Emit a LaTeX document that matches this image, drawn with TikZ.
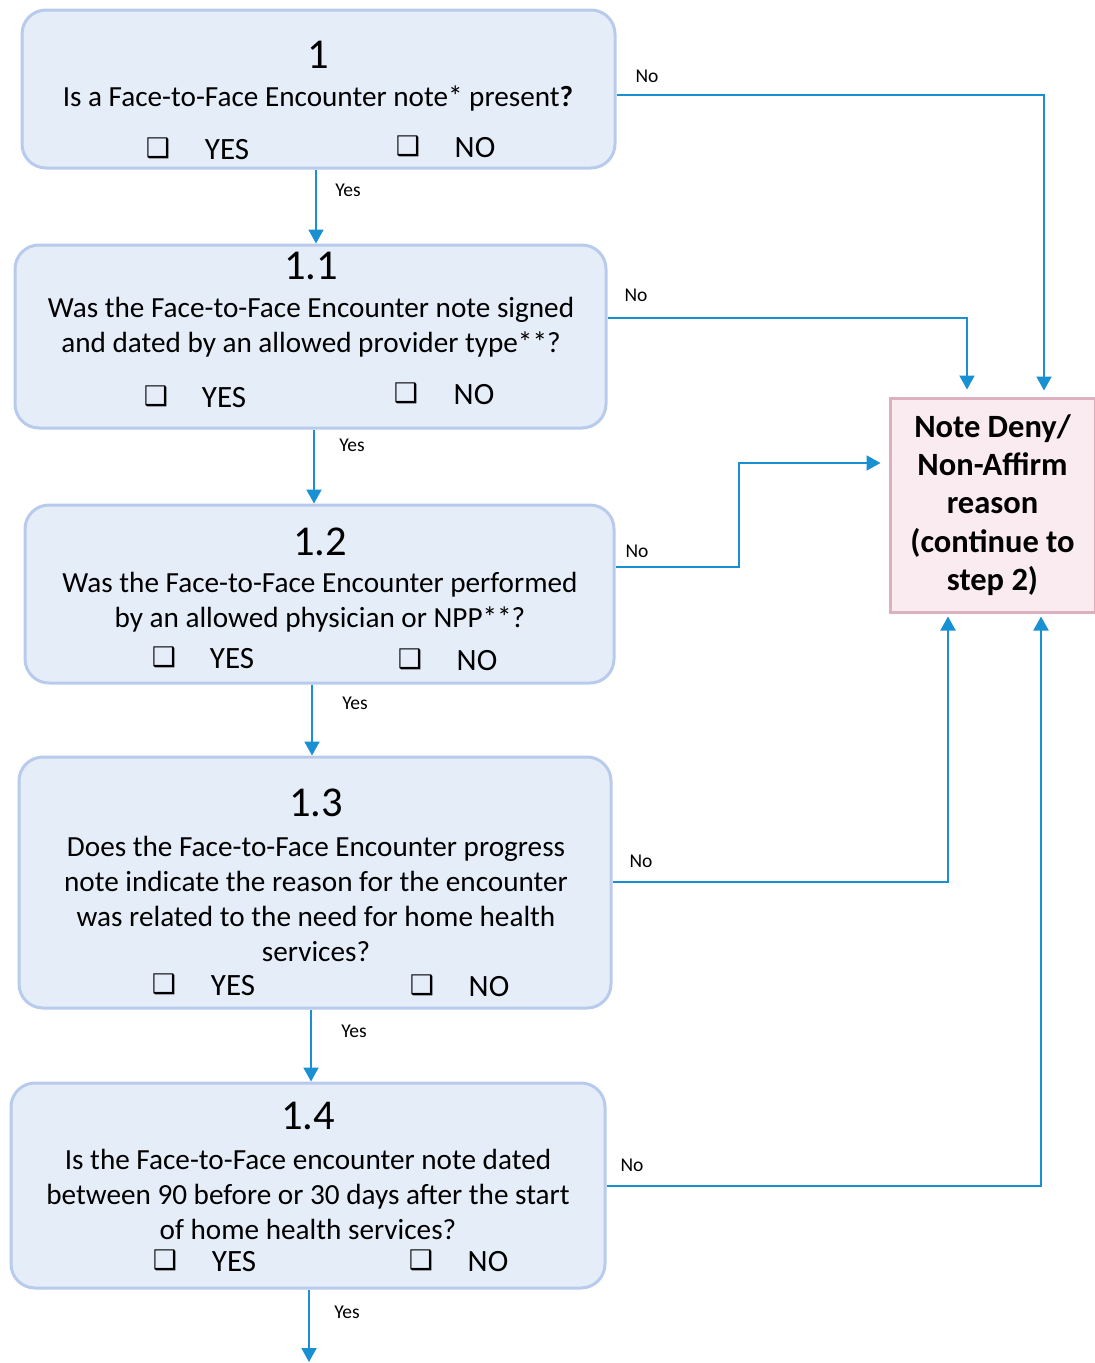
\documentclass[tikz,border=0pt]{standalone}
\usepackage{fontspec}
\setmainfont{Carlito}
\newfontfamily\dvfont{DejaVu Sans}
\usetikzlibrary{arrows.meta}
\definecolor{boxfill}{RGB}{229,237,249}
\definecolor{boxline}{RGB}{185,203,236}
\definecolor{flowblue}{RGB}{24,144,210}
\definecolor{pinkfill}{RGB}{250,235,241}
\definecolor{pinkline}{RGB}{222,176,190}
\begin{document}
\begin{tikzpicture}[x=1pt,y=-1pt,
  qbox/.style={draw=boxline, fill=boxfill, line width=3pt, rounded corners=24pt, inner sep=0pt},
  numtxt/.style={font=\fontsize{42.5}{44}\selectfont},
  qtext/.style={font=\fontsize{29.2}{35}\selectfont, align=center},
  cbox/.style={font=\dvfont\fontsize{27}{30}\selectfont},
  yn/.style={font=\fontsize{31}{33}\selectfont},
  lbl/.style={font=\fontsize{19.5}{21}\selectfont},
  flow/.style={draw=flowblue, line width=2pt, -{Triangle[width=15pt,length=14pt]}},
  endbox/.style={draw=pinkline, fill=pinkfill, line width=3pt, inner sep=0pt, align=center,
    font=\bfseries\fontsize{32.5}{38.3}\selectfont}
]
\path[use as bounding box] (0,0) rectangle (1095,1363);

% Box 1
\node[qbox, minimum width=593pt, minimum height=158pt] (b1) at (318.5,89) {};
\node[numtxt] (n1) at (318,55) {1};
\node[qtext] (q1) at (318,98) {Is a Face-to-Face Encounter note* present\textbf{?}};
\node[cbox] (c1y) at (158,148) {❑};
\node[yn] (t1y) at (227,150) {YES};
\node[cbox] (c1n) at (408,146) {❑};
\node[yn] (t1n) at (475,148) {NO};

% Box 1.1
\node[qbox, minimum width=591pt, minimum height=183pt] (b11) at (310.5,336.5) {};
\node[numtxt] (n11) at (311,266) {1.1};
\node[qtext] (q11) at (311,327) {Was the Face-to-Face Encounter note signed\\and dated by an allowed provider type**?};
\node[cbox] (c11y) at (156,396) {❑};
\node[yn] (t11y) at (224,398) {YES};
\node[cbox] (c11n) at (406,393) {❑};
\node[yn] (t11n) at (474,395) {NO};

% Box 1.2
\node[qbox, minimum width=589pt, minimum height=178pt] (b12) at (319.5,594) {};
\node[numtxt] (n12) at (320,542) {1.2};
\node[qtext] (q12) at (320,602) {Was the Face-to-Face Encounter performed\\by an allowed physician or NPP**?};
\node[cbox] (c12y) at (164,657) {❑};
\node[yn] (t12y) at (232,659) {YES};
\node[cbox] (c12n) at (410,659) {❑};
\node[yn] (t12n) at (477,661) {NO};

% Box 1.3
\node[qbox, minimum width=592pt, minimum height=251pt] (b13) at (315,882.5) {};
\node[numtxt] (n13) at (316,803) {1.3};
\node[qtext] (q13) at (316,899) {Does the Face-to-Face Encounter progress\\note indicate the reason for the encounter\\was related to the need for home health\\services?};
\node[cbox] (c13y) at (164,984) {❑};
\node[yn] (t13y) at (233,986) {YES};
\node[cbox] (c13n) at (422,985) {❑};
\node[yn] (t13n) at (489,987) {NO};

% Box 1.4
\node[qbox, minimum width=594pt, minimum height=205pt] (b14) at (308,1185.5) {};
\node[numtxt] (n14) at (308,1116) {1.4};
\node[qtext] (q14) at (308,1194) {Is the Face-to-Face encounter note dated\\between 90 before or 30 days after the start\\of home health services?};
\node[cbox] (c14y) at (165,1260) {❑};
\node[yn] (t14y) at (234,1262) {YES};
\node[cbox] (c14n) at (421,1260) {❑};
\node[yn] (t14n) at (488,1262) {NO};

% Deny box
\node[endbox, minimum width=205pt, minimum height=214pt] (nd) at (992.5,505)
  {Note Deny/\\Non-Affirm\\reason\\(continue to\\step 2)};

\coordinate (endpt) at (309,1362);

% Yes connectors
\draw[flow] (b1.south -| 316,0) -- (b11.north -| 316,0);
\draw[flow] (b11.south -| 314,0) -- (b12.north -| 314,0);
\draw[flow] (b12.south -| 312,0) -- (b13.north -| 312,0);
\draw[flow] (b13.south -| 311,0) -- (b14.north -| 311,0);
\draw[flow] (b14.south -| 309,0) -- (endpt);

\node[lbl] (y1) at (348,190) {Yes};
\node[lbl] (y2) at (352,445) {Yes};
\node[lbl] (y3) at (355,703) {Yes};
\node[lbl] (y4) at (354,1031) {Yes};
\node[lbl] (y5) at (347,1312) {Yes};

% No connectors
\draw[flow, shorten >=6pt] ([yshift=-6pt]b1.east) -| ([xshift=51.5pt]nd.north);
\draw[flow, shorten >=7pt] ([yshift=18.5pt]b11.east) -| ([xshift=-25.5pt]nd.north);
\draw[flow, shorten >=8pt] ([yshift=27pt]b12.east) -- (739,567) |- ([yshift=42pt]nd.west);
\draw[flow, shorten >=3pt] ([yshift=0.5pt]b13.east) -| ([xshift=-44.5pt]nd.south);
\draw[flow, shorten >=3pt] ([yshift=-0.5pt]b14.east) -| ([xshift=48.5pt]nd.south);

\node[lbl] (no1) at (647,76) {No};
\node[lbl] (no2) at (636,295) {No};
\node[lbl] (no3) at (637,551) {No};
\node[lbl] (no4) at (641,861) {No};
\node[lbl] (no5) at (632,1165) {No};
\end{tikzpicture}
\end{document}
